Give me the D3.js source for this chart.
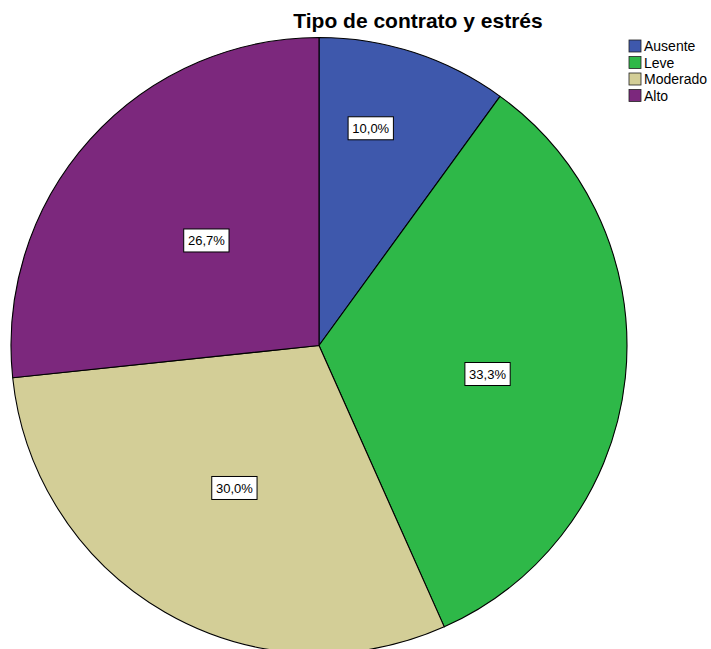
<!DOCTYPE html>
<html>
<head>
<meta charset="utf-8">
<script src="https://cdn.jsdelivr.net/npm/d3@7"></script>
<style>
  html, body { margin: 0; padding: 0; background: #fff; }
  svg { display: block; font-family: Arial, "Liberation Sans", sans-serif; }
</style>
</head>
<body>
<svg id="chart" width="711" height="649"></svg>
<script>
// Stress level categories and respondent counts (n = 30)
const categories = ["Ausente", "Leve", "Moderado", "Alto"];
const counts = [3, 10, 9, 8];
const percentLabels = ["10,0%", "33,3%", "30,0%", "26,7%"];
const colors = ["#3E58AC", "#2EB848", "#D3CE97", "#7C287D"];
const title = "Tipo de contrato y estrés";

// Label placement: angular nudge (degrees) from the slice middle and radius fraction
const labelPlacement = [
  { da: -4.6, rf: 0.725 },
  { da: 3.6, rf: 0.555 },
  { da: 0.7, rf: 0.538 },
  { da: 1.0, rf: 0.50 }
];

const svg = d3.select("#chart");
const cx = 319, cy = 345.5, radius = 308;

const pie = d3.pie().sort(null).value(d => d)(counts);
const arc = d3.arc().innerRadius(0).outerRadius(radius);

const g = svg.append("g").attr("transform", `translate(${cx},${cy})`);

g.selectAll("path.slice")
  .data(pie)
  .join("path")
  .attr("class", "slice")
  .attr("d", arc)
  .attr("fill", (d, i) => colors[i])
  .attr("stroke", "#000")
  .attr("stroke-width", 1.1)
  .attr("stroke-linejoin", "round");

// Percentage labels in white boxes
const labels = g.selectAll("g.lbl")
  .data(pie)
  .join("g")
  .attr("class", "lbl")
  .attr("transform", (d, i) => {
    const p = labelPlacement[i];
    const a = (d.startAngle + d.endAngle) / 2 + p.da * Math.PI / 180;
    const r = radius * p.rf;
    return `translate(${r * Math.sin(a)},${-r * Math.cos(a)})`;
  });

labels.each(function(d, i) {
  const sel = d3.select(this);
  const t = sel.append("text")
    .attr("text-anchor", "middle")
    .attr("dy", "0.36em")
    .attr("font-size", 13)
    .attr("fill", "#000")
    .text(percentLabels[i]);
  const bb = t.node().getBBox();
  sel.insert("rect", "text")
    .attr("x", -bb.width / 2 - 4)
    .attr("y", -11.5)
    .attr("width", bb.width + 8)
    .attr("height", 23)
    .attr("fill", "#fff")
    .attr("stroke", "#000")
    .attr("stroke-width", 1);
});

// Title
svg.append("text")
  .attr("x", 418)
  .attr("y", 28)
  .attr("text-anchor", "middle")
  .attr("font-size", 21)
  .attr("font-weight", "bold")
  .attr("fill", "#000")
  .text(title);

// Legend
const legend = svg.append("g").attr("transform", "translate(629,40)");
const rows = legend.selectAll("g")
  .data(categories)
  .join("g")
  .attr("transform", (d, i) => `translate(0,${i * 16.5})`);

rows.append("rect")
  .attr("width", 12)
  .attr("height", 12)
  .attr("fill", (d, i) => colors[i])
  .attr("stroke", "#222")
  .attr("stroke-width", 0.8);

rows.append("text")
  .attr("x", 15)
  .attr("y", 6)
  .attr("dy", "0.36em")
  .attr("font-size", 14)
  .attr("fill", "#000")
  .text(d => d);
</script>
</body>
</html>
